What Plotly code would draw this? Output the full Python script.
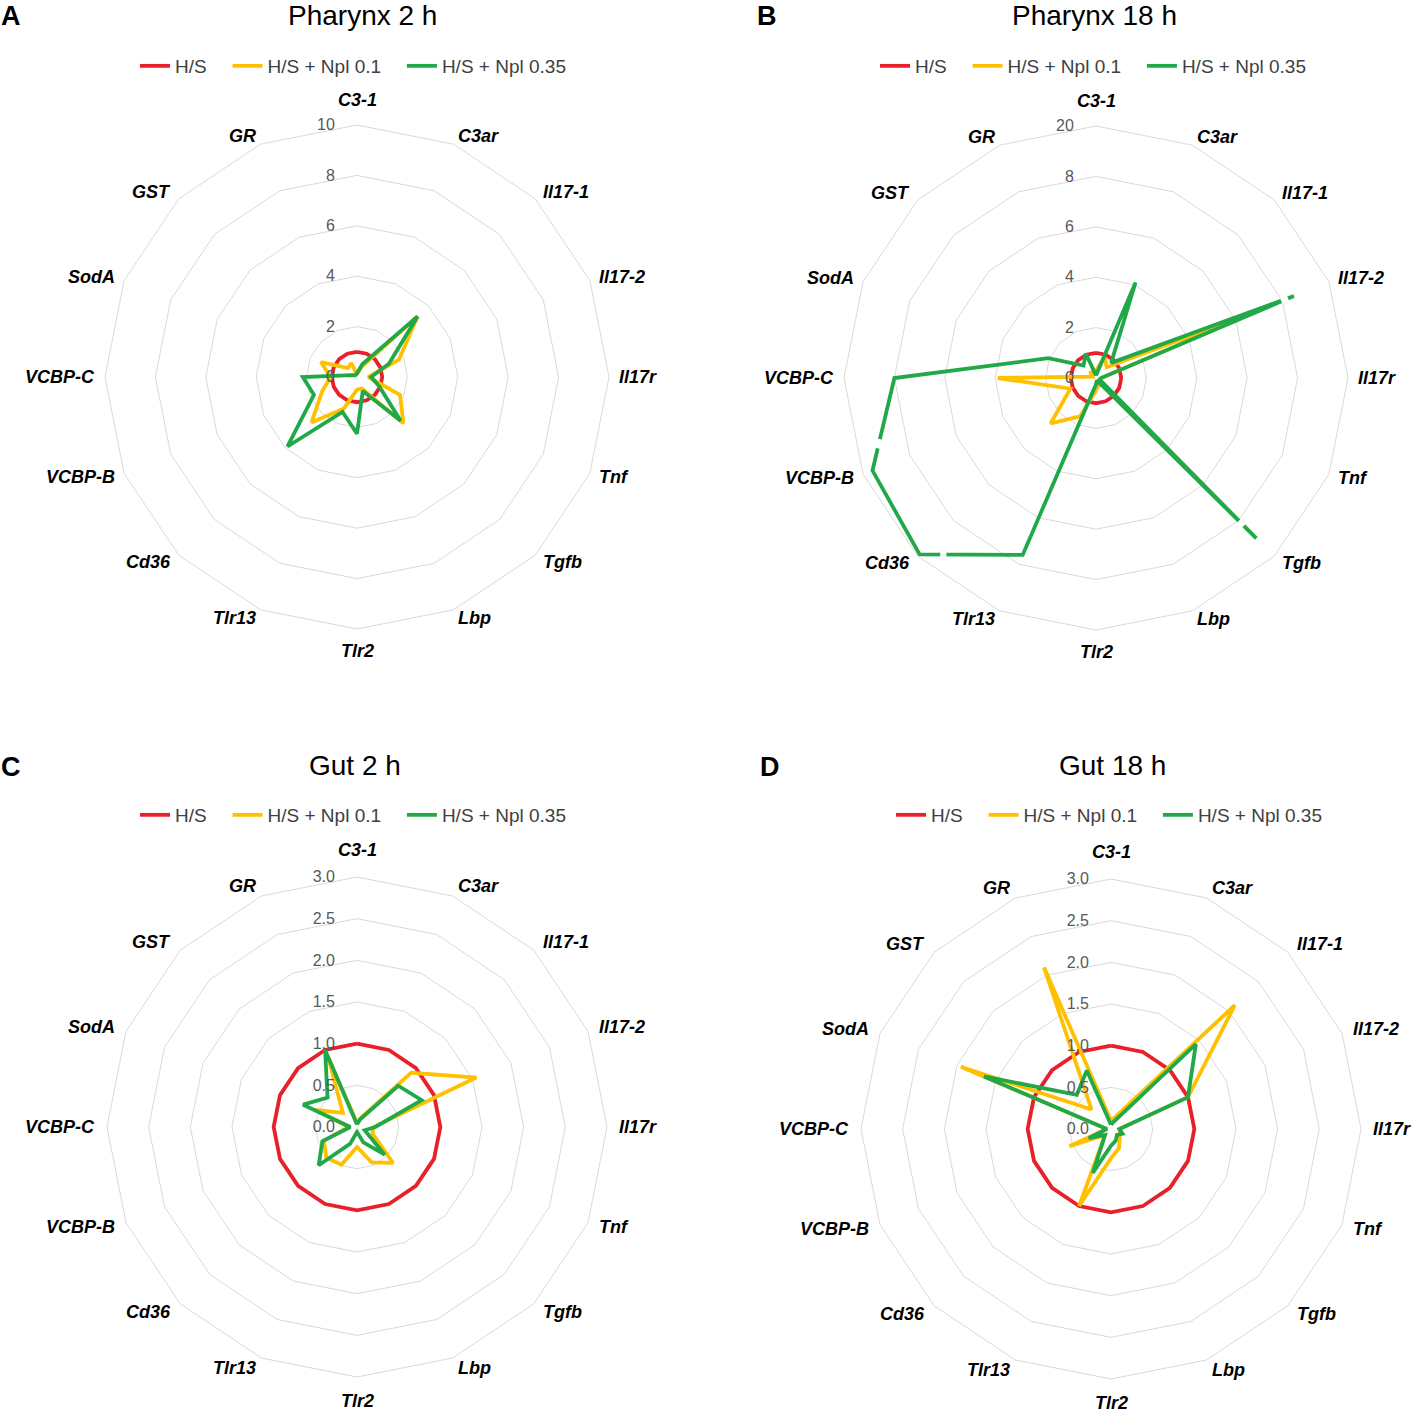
import math
import plotly.graph_objects as go

# gene order, clockwise from the top of each radar
genes = ["C3-1", "C3ar", "Il17-1", "Il17-2", "Il17r", "Tnf", "Tgfb", "Lbp",
         "Tlr2", "Tlr13", "Cd36", "VCBP-B", "VCBP-C", "SodA", "GST", "GR"]

series_names = ["H/S", "H/S + Npl 0.1", "H/S + Npl 0.35"]

# Pharynx 2 h (fold change vs H/S)
ph2_hs = [1, 1, 1, 1, 1, 1, 1, 1, 1, 1, 1, 1, 1, 1, 1, 1]
ph2_npl01 = [0.1, 0.4, 3.4, 1.8, 0.45, 1.85, 2.6, 0.5, 0.5, 1.35, 2.55, 1.5, 1.05, 1.55, 0.5, 0.6]
ph2_npl035 = [0.15, 0.55, 3.4, 1.37, 0.56, 0.95, 2.45, 0.6, 2.25, 1.5, 3.9, 1.85, 2.15, 0.2, 0.1, 0.1]

# Pharynx 18 h (outer ring relabelled 20 in the original)
ph18_hs = [1, 1, 1, 1, 1, 1, 1, 1, 1, 1, 1, 1, 1, 1, 1, 1]
ph18_npl01 = [0.3, 0.9, 0.6, 7.0, 0.2, 0.2, 0.3, 0.3, 0.5, 1.65, 2.55, 1.1, 3.9, 0.15, 0.3, 0.3]
ph18_npl035 = [0.1, 4.1, 0.85, 8.5, 0.2, 0.15, 9.0, 0.1, 0.25, 7.6, 9.9, 9.6, 8.0, 2.05, 0.7, 1.05]

# axis-break marks on the Npl 0.35 line of Pharynx 18 h:
# (from gene, to gene, start fraction, end fraction) along that edge
ph18_breaks = [("Il17-1", "Il17-2", 0.935, 0.968), ("Il17-2", "Il17r", 0.032, 0.065),
               ("Tnf", "Tgfb", 0.89, 0.92), ("Tgfb", "Lbp", 0.08, 0.11),
               ("VCBP-C", "VCBP-B", 0.66, 0.76), ("Cd36", "Tlr13", 0.2, 0.26)]

# Gut 2 h
gut2_hs = [1, 1, 1, 1, 1, 1, 1, 1, 1, 1, 1, 1, 1, 1, 1, 1]
gut2_npl01 = [0.05, 0.12, 0.92, 1.55, 0.2, 0.2, 0.61, 0.46, 0.24, 0.49, 0.52, 0.43, 0.1, 0.54, 0.24, 0.9]
gut2_npl035 = [0.03, 0.1, 0.7, 0.84, 0.22, 0.1, 0.47, 0.2, 0.06, 0.22, 0.65, 0.45, 0.08, 0.7, 0.5, 1.0]

# Gut 18 h
gut18_hs = [1, 1, 1, 1, 1, 1, 1, 1, 1, 1, 1, 1, 1, 1, 1, 1]
gut18_npl01 = [0.1, 0.17, 2.1, 1.0, 0.1, 0.12, 0.15, 0.25, 0.35, 1.0, 0.1, 0.54, 0.05, 1.95, 0.33, 2.1]
gut18_npl035 = [0.05, 0.1, 1.44, 1.0, 0.1, 0.15, 0.1, 0.15, 0.2, 0.57, 0.1, 0.29, 0.05, 1.65, 0.58, 0.76]

pharynx_ticks = [0, 2, 4, 6, 8, 10]
pharynx2_ticktext = ["0", "2", "4", "6", "8", "10"]
pharynx18_ticktext = ["0", "2", "4", "6", "8", "20"]
gut_ticks = [0, 0.5, 1.0, 1.5, 2.0, 2.5, 3.0]
gut_ticktext = ["0.0", "0.5", "1.0", "1.5", "2.0", "2.5", "3.0"]

colors = ["#E8202A", "#FFC000", "#21A848"]
W, H = 1416, 1414
FONT = "Liberation Sans"
STEP = 360 / len(genes)


def px(x):
    return x / W


def py(y):
    return 1 - y / H


def dom(cx, cy, r):
    return [px(cx - r), px(cx + r)], [py(cy + r), py(cy - r)]


def to_xy(r, k):
    a = math.radians(90 - STEP * k)
    return r * math.cos(a), r * math.sin(a)


def to_polar(x, y):
    return math.hypot(x, y), (90 - math.degrees(math.atan2(y, x))) % 360


panels = [
    dict(title="Pharynx 2 h", letter="A", data=[ph2_hs, ph2_npl01, ph2_npl035],
         tv=pharynx_ticks, tt=pharynx2_ticktext, center=(357, 377), r=252,
         tpos=(362, 16), lpos=(135, 66), breaks=[]),
    dict(title="Pharynx 18 h", letter="B", data=[ph18_hs, ph18_npl01, ph18_npl035],
         tv=pharynx_ticks, tt=pharynx18_ticktext, center=(1096, 378), r=252,
         tpos=(1094, 16), lpos=(875, 66), breaks=ph18_breaks),
    dict(title="Gut 2 h", letter="C", data=[gut2_hs, gut2_npl01, gut2_npl035],
         tv=gut_ticks, tt=gut_ticktext, center=(357, 1127), r=250,
         tpos=(355, 765), lpos=(135, 815), breaks=[]),
    dict(title="Gut 18 h", letter="D", data=[gut18_hs, gut18_npl01, gut18_npl035],
         tv=gut_ticks, tt=gut_ticktext, center=(1111, 1129), r=250,
         tpos=(1112, 765), lpos=(891, 815), breaks=[]),
]
letter_pos = [(11, 16), (767, 16), (11, 767), (770, 767)]
pad = "\u00a0\u00a0\u00a0"

fig = go.Figure()
annotations = []
n_polar = len(panels)
for i, p in enumerate(panels):
    pid = "polar" if i == 0 else f"polar{i + 1}"
    lid = "legend" if i == 0 else f"legend{i + 1}"
    theta = genes + [genes[0]]
    for name, vals, c in zip(series_names, p["data"], colors):
        fig.add_trace(go.Scatterpolar(
            r=vals + [vals[0]], theta=theta, mode="lines", name=name + pad,
            line=dict(color=c, width=3.8), subplot=pid, legend=lid,
            hoverinfo="skip",
        ))
    dx, dy = dom(p["center"][0], p["center"][1], p["r"])
    fig.update_layout({
        pid: dict(
            domain=dict(x=dx, y=dy),
            bgcolor="white",
            gridshape="linear",
            radialaxis=dict(
                range=[0, p["tv"][-1]], tickvals=p["tv"], ticktext=p["tt"],
                angle=90, tickangle=90, side="counterclockwise",
                showline=False, ticks="outside", ticklen=16,
                tickcolor="rgba(0,0,0,0)",
                gridcolor="#D9D9D9", gridwidth=1,
                tickfont=dict(family=FONT, size=16, color="#595959"),
            ),
            angularaxis=dict(
                rotation=90, direction="clockwise", showgrid=False,
                showline=True, linecolor="#D9D9D9", linewidth=1,
                ticks="", showticklabels=False,
            ),
        ),
        lid: dict(
            orientation="h", x=px(p["lpos"][0]), y=py(p["lpos"][1]),
            xanchor="left", yanchor="middle", bgcolor="rgba(0,0,0,0)",
            font=dict(family=FONT, size=19, color="#404040"),
            tracegroupgap=0,
        ),
    })

    # white gaps (axis break marks) drawn in an overlaid polar on a numeric angle axis
    if p["breaks"]:
        n_polar += 1
        oid = f"polar{n_polar}"
        vals = p["data"][2]
        for g0, g1, f0, f1 in p["breaks"]:
            k0, k1 = genes.index(g0), genes.index(g1)
            x0, y0 = to_xy(vals[k0], k0)
            x1, y1 = to_xy(vals[k1], k1)
            pts = [to_polar(x0 + f * (x1 - x0), y0 + f * (y1 - y0)) for f in (f0, f1)]
            fig.add_trace(go.Scatterpolar(
                r=[q[0] for q in pts], theta=[q[1] for q in pts], mode="lines",
                line=dict(color="white", width=7), subplot=oid,
                showlegend=False, hoverinfo="skip",
            ))
        fig.update_layout({
            oid: dict(
                domain=dict(x=dx, y=dy), bgcolor="rgba(0,0,0,0)",
                radialaxis=dict(range=[0, p["tv"][-1]], visible=False),
                angularaxis=dict(rotation=90, direction="clockwise",
                                 visible=False, type="linear"),
            ),
        })

    # gene labels placed round the outer ring, Excel style
    cx, cy = p["center"]
    for k, g in enumerate(genes):
        a = math.radians(90 - STEP * k)
        ca, sa = math.cos(a), math.sin(a)
        if abs(ca) < 1e-6:
            rr = 266 if sa > 0 else 263
            xa, ya = "center", ("bottom" if sa > 0 else "top")
        else:
            rr = 261
            xa, ya = ("left" if ca > 0 else "right"), "middle"
        annotations.append(dict(
            text=g, x=px(cx + rr * ca), y=py(cy - rr * sa),
            xref="paper", yref="paper", showarrow=False,
            xanchor=xa, yanchor=ya, borderpad=0,
            font=dict(family=FONT, size=18, color="black",
                      weight="bold", style="italic"),
        ))

    annotations.append(dict(
        text=p["title"], x=px(p["tpos"][0]), y=py(p["tpos"][1]),
        xref="paper", yref="paper", showarrow=False, xanchor="center",
        yanchor="middle", font=dict(family=FONT, size=28, color="black"),
    ))
    annotations.append(dict(
        text="<b>" + p["letter"] + "</b>", x=px(letter_pos[i][0]),
        y=py(letter_pos[i][1]), xref="paper", yref="paper",
        showarrow=False, xanchor="center", yanchor="middle",
        font=dict(family=FONT, size=27, color="black"),
    ))

fig.update_layout(
    width=W, height=H, autosize=False,
    margin=dict(l=0, r=0, t=0, b=0),
    paper_bgcolor="white", plot_bgcolor="white",
    annotations=annotations,
)

fig.write_html("out.html", config={"displayModeBar": False},
               post_script="document.body.style.margin='0';")
